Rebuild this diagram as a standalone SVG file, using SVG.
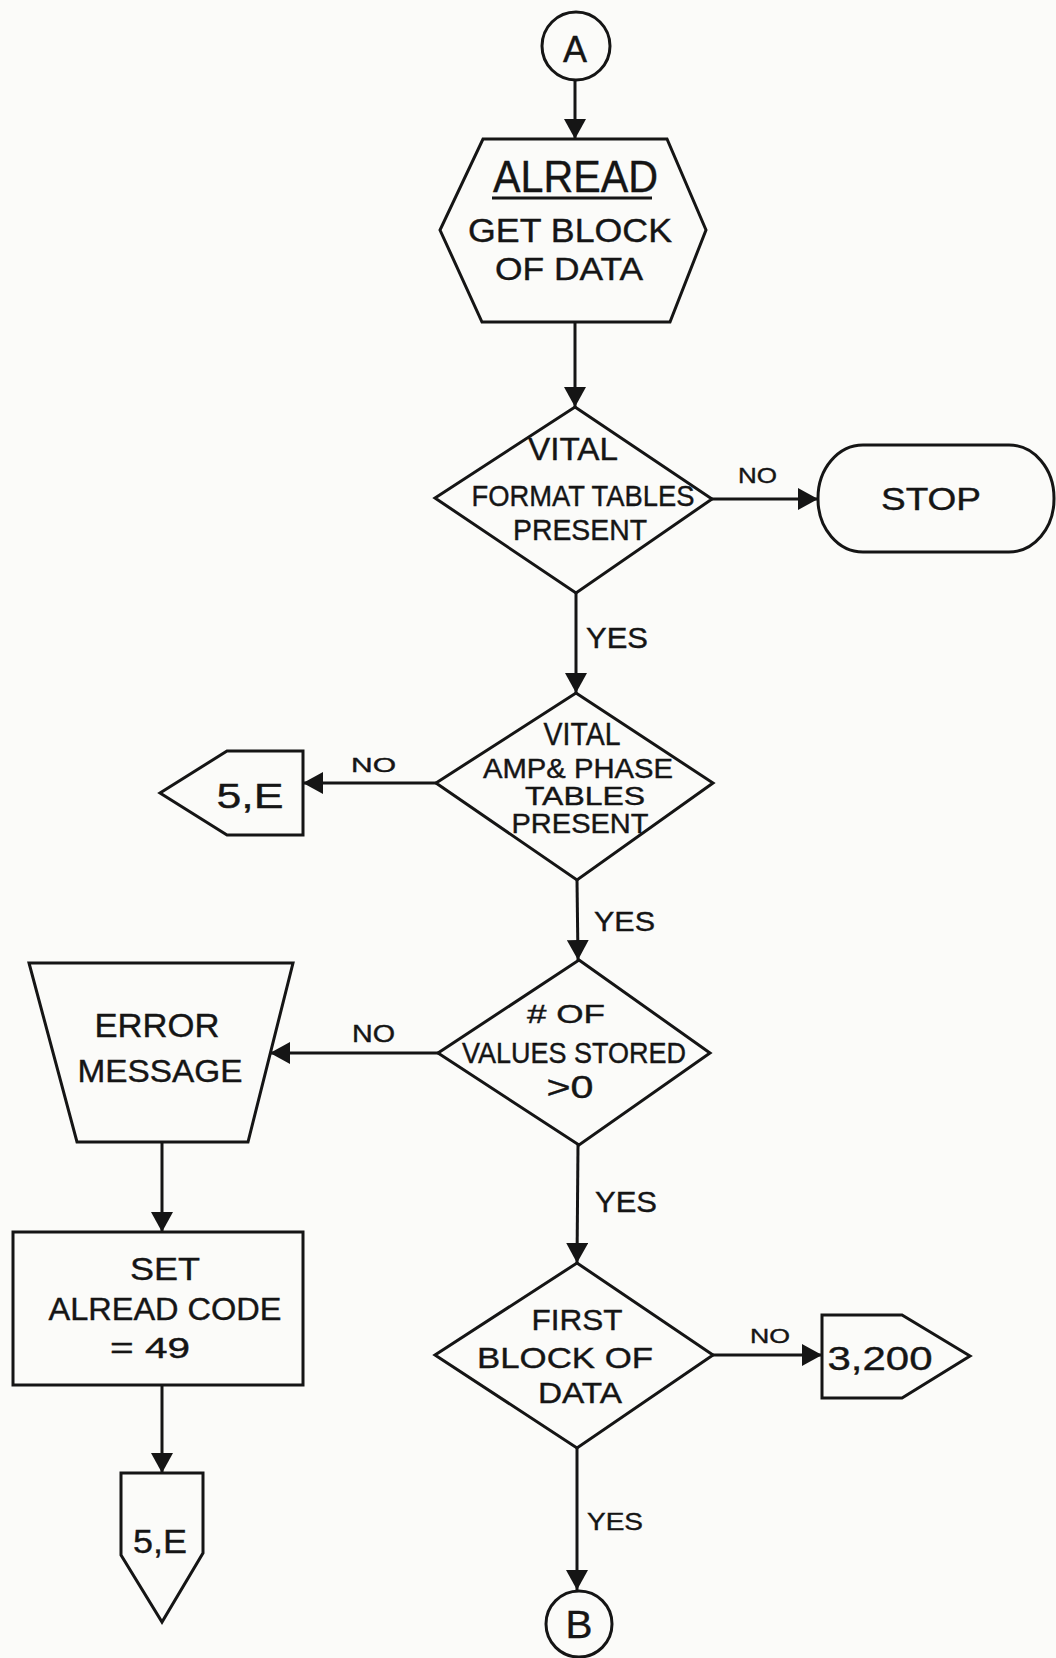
<svg xmlns="http://www.w3.org/2000/svg" width="1056" height="1658" viewBox="0 0 1056 1658">
<defs>
<style>
.s{fill:none;stroke:#151515;stroke-width:3;stroke-linejoin:miter}
.c{fill:none;stroke:#151515;stroke-width:3}
.t{font-family:"Liberation Sans",Arial,sans-serif;fill:#151515;stroke:#151515;stroke-width:0.4;text-anchor:middle}
.l{font-family:"Liberation Sans",Arial,sans-serif;fill:#151515;stroke:#151515;stroke-width:0.4}
</style>
<marker id="ah" markerUnits="userSpaceOnUse" markerWidth="22" markerHeight="22" refX="20" refY="11" orient="auto">
<path d="M0,0 L20,11 L0,22 z" fill="#151515"/>
</marker>
</defs>
<rect x="0" y="0" width="1056" height="1658" fill="#fbfbf9"/>

<g id="connectors">
<line class="c" x1="575" y1="80" x2="575" y2="139" marker-end="url(#ah)"/>
<line class="c" x1="575" y1="322" x2="575" y2="407" marker-end="url(#ah)"/>
<line class="c" x1="712" y1="499" x2="818" y2="499" marker-end="url(#ah)"/>
<line class="c" x1="576" y1="593" x2="576" y2="693" marker-end="url(#ah)"/>
<line class="c" x1="436" y1="783" x2="303" y2="783" marker-end="url(#ah)"/>
<line class="c" x1="577" y1="880" x2="578" y2="960" marker-end="url(#ah)"/>
<line class="c" x1="438" y1="1053" x2="270" y2="1053" marker-end="url(#ah)"/>
<line class="c" x1="578" y1="1145" x2="577" y2="1263" marker-end="url(#ah)"/>
<line class="c" x1="713" y1="1355" x2="822" y2="1355" marker-end="url(#ah)"/>
<line class="c" x1="577" y1="1448" x2="577" y2="1590" marker-end="url(#ah)"/>
<line class="c" x1="162" y1="1142" x2="162" y2="1232" marker-end="url(#ah)"/>
<line class="c" x1="162" y1="1385" x2="162" y2="1473" marker-end="url(#ah)"/>
<text class="l" x="738" y="483" font-size="22" textLength="39" lengthAdjust="spacingAndGlyphs">NO</text>
<text class="l" x="586" y="648" font-size="29" textLength="62" lengthAdjust="spacingAndGlyphs">YES</text>
<text class="l" x="351" y="772" font-size="21" textLength="45" lengthAdjust="spacingAndGlyphs">NO</text>
<text class="l" x="594" y="931" font-size="28" textLength="61" lengthAdjust="spacingAndGlyphs">YES</text>
<text class="l" x="352" y="1042" font-size="23" textLength="43" lengthAdjust="spacingAndGlyphs">NO</text>
<text class="l" x="595" y="1212" font-size="30" textLength="62" lengthAdjust="spacingAndGlyphs">YES</text>
<text class="l" x="750" y="1343" font-size="20" textLength="40" lengthAdjust="spacingAndGlyphs">NO</text>
<text class="l" x="587" y="1530" font-size="24" textLength="56" lengthAdjust="spacingAndGlyphs">YES</text>
</g>

<g id="node-A">
<circle class="s" cx="576" cy="46" r="34"/>
<text class="t" x="575" y="62" font-size="36">A</text>
</g>

<g id="node-alread">
<polygon class="s" points="483,139 667,139 706,230 670,322 482,322 440,230"/>
<text class="t" x="575.5" y="192" font-size="44" textLength="165" lengthAdjust="spacingAndGlyphs">ALREAD</text>
<line class="c" x1="492" y1="198" x2="652" y2="198"/>
<text class="t" x="570" y="242" font-size="33" textLength="204" lengthAdjust="spacingAndGlyphs">GET BLOCK</text>
<text class="t" x="569" y="280" font-size="32" textLength="148" lengthAdjust="spacingAndGlyphs">OF DATA</text>
</g>

<g id="node-format">
<polygon class="s" points="575,407 712,499 576,593 435,498"/>
<text class="t" x="573" y="460" font-size="32" textLength="90" lengthAdjust="spacingAndGlyphs">VITAL</text>
<text class="t" x="583" y="506" font-size="30" textLength="223" lengthAdjust="spacingAndGlyphs">FORMAT TABLES</text>
<text class="t" x="580" y="540" font-size="29" textLength="134" lengthAdjust="spacingAndGlyphs">PRESENT</text>
</g>

<g id="node-stop">
<rect class="s" x="818" y="445" width="236" height="107" rx="45" ry="53"/>
<text class="t" x="931" y="510" font-size="31" textLength="100" lengthAdjust="spacingAndGlyphs">STOP</text>
</g>

<g id="node-amp">
<polygon class="s" points="576,693 713,783 577,880 436,783"/>
<text class="t" x="582" y="745" font-size="31" textLength="77" lengthAdjust="spacingAndGlyphs">VITAL</text>
<text class="t" x="578" y="778" font-size="27" textLength="190" lengthAdjust="spacingAndGlyphs">AMP&amp; PHASE</text>
<text class="t" x="585" y="805" font-size="26" textLength="120" lengthAdjust="spacingAndGlyphs">TABLES</text>
<text class="t" x="580" y="833" font-size="28" textLength="137" lengthAdjust="spacingAndGlyphs">PRESENT</text>
</g>

<g id="node-5E-left">
<polygon class="s" points="303,751 227,751 160,793 227,835 303,835"/>
<text class="t" x="250" y="808" font-size="35" textLength="67" lengthAdjust="spacingAndGlyphs">5,E</text>
</g>

<g id="node-values">
<polygon class="s" points="579,960 710,1053 579,1145 438,1053"/>
<text class="t" x="566" y="1023" font-size="26" textLength="78" lengthAdjust="spacingAndGlyphs"># OF</text>
<text class="t" x="574" y="1063" font-size="29" textLength="224" lengthAdjust="spacingAndGlyphs">VALUES STORED</text>
<text class="t" x="570" y="1098" font-size="32" textLength="47" lengthAdjust="spacingAndGlyphs">&gt;0</text>
</g>

<g id="node-error">
<polygon class="s" points="29,963 293,963 248,1142 77,1142"/>
<text class="t" x="157" y="1037" font-size="33" textLength="125" lengthAdjust="spacingAndGlyphs">ERROR</text>
<text class="t" x="160" y="1082" font-size="31" textLength="165" lengthAdjust="spacingAndGlyphs">MESSAGE</text>
</g>

<g id="node-set">
<rect class="s" x="13" y="1232" width="290" height="153"/>
<text class="t" x="165" y="1280" font-size="32" textLength="70" lengthAdjust="spacingAndGlyphs">SET</text>
<text class="t" x="165" y="1320" font-size="31" textLength="233" lengthAdjust="spacingAndGlyphs">ALREAD CODE</text>
<text class="t" x="150" y="1358" font-size="30" textLength="80" lengthAdjust="spacingAndGlyphs">= 49</text>
</g>

<g id="node-5E-bottom">
<polygon class="s" points="121,1473 203,1473 203,1553 162,1622 121,1555"/>
<text class="t" x="160" y="1553" font-size="34" textLength="54" lengthAdjust="spacingAndGlyphs">5,E</text>
</g>

<g id="node-first">
<polygon class="s" points="577,1263 713,1355 577,1448 435,1355"/>
<text class="t" x="577" y="1330" font-size="30" textLength="91" lengthAdjust="spacingAndGlyphs">FIRST</text>
<text class="t" x="565" y="1368" font-size="30" textLength="176" lengthAdjust="spacingAndGlyphs">BLOCK OF</text>
<text class="t" x="580" y="1403" font-size="30" textLength="84" lengthAdjust="spacingAndGlyphs">DATA</text>
</g>

<g id="node-3200">
<polygon class="s" points="822,1315 902,1315 970,1356 902,1398 822,1398"/>
<text class="t" x="880" y="1370" font-size="34" textLength="105" lengthAdjust="spacingAndGlyphs">3,200</text>
</g>

<g id="node-B">
<circle class="s" cx="579" cy="1624" r="33"/>
<text class="t" x="579" y="1638" font-size="38" textLength="27" lengthAdjust="spacingAndGlyphs">B</text>
</g>
</svg>
